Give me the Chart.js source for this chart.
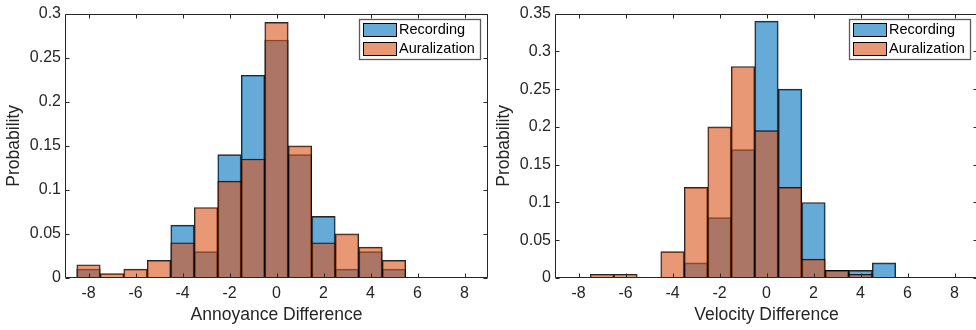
<!DOCTYPE html>
<html><head><meta charset="utf-8">
<script src="https://cdn.jsdelivr.net/npm/chart.js@4.4.0/dist/chart.umd.min.js"></script>
<style>
html,body{margin:0;padding:0;background:#fff;overflow:hidden;width:976px;height:330px;}
.p{position:absolute;top:0;width:490px;height:330px;}
canvas{display:block;}
</style></head><body>
<div class="p" style="left:0"><canvas id="c1" width="490" height="330"></canvas></div>
<div class="p" style="left:490px"><canvas id="c2" width="490" height="330"></canvas></div>
<script>
// ---- data ----
const annoyBins = [-8,-7,-6,-5,-4,-3,-2,-1,0,1,2,3,4,5];
const annoyRecording = [0.01,0,0,0,0.06,0.03,0.14,0.23,0.27,0.14,0.07,0.01,0.03,0.01];
const annoyAuralization = [0.015,0.005,0.01,0.02,0.04,0.08,0.11,0.135,0.29,0.15,0.04,0.05,0.035,0.02];
const velBins = [-7,-6,-5,-4,-3,-2,-1,0,1,2,3,4,5];
const velRecording = [0,0,0,0,0.02,0.08,0.17,0.34,0.25,0.10,0.01,0.01,0.02];
const velAuralization = [0.005,0.005,0,0.035,0.12,0.20,0.28,0.195,0.12,0.025,0.01,0.005,0];
const xTicks = [-8,-6,-4,-2,0,2,4,6,8];
const yTicksAnnoy = [0,0.05,0.1,0.15,0.2,0.25,0.3];
const yTicksVel = [0,0.05,0.1,0.15,0.2,0.25,0.3,0.35];
const seriesNames = ['Recording','Auralization'];
const xTitles = ['Annoyance Difference','Velocity Difference'];
const yTitle = 'Probability';

const FILL = ['rgba(0,114,189,0.6)','rgba(217,83,25,0.6)'];
const AX = 'rgb(38,38,38)';
const FONT = "'Liberation Sans', Arial, sans-serif";

const boxPlugin = {
  id: 'boxPlugin',
  afterDraw(chart) {
    const ctx = chart.ctx, a = chart.chartArea;
    const xs = chart.scales.x, ys = chart.scales.y;
    const L = Math.round(a.left)+0.5, R = Math.round(a.right)-0.5, T = Math.round(a.top)+0.5, B = Math.round(a.bottom)-0.5;
    ctx.save();
    ctx.strokeStyle = AX; ctx.lineWidth = 1;
    ctx.beginPath();
    ctx.moveTo(L,T); ctx.lineTo(R,T); ctx.lineTo(R,B); ctx.lineTo(L,B); ctx.closePath();
    const tl = 4;
    xs.ticks.forEach(t => {
      const px = Math.round(xs.getPixelForValue(t.value))+0.5;
      ctx.moveTo(px,B); ctx.lineTo(px,B-tl);
      ctx.moveTo(px,T); ctx.lineTo(px,T+tl);
    });
    ys.ticks.forEach(t => {
      const py = Math.round(ys.getPixelForValue(t.value))+0.5;
      ctx.moveTo(L,py); ctx.lineTo(L+tl,py);
      ctx.moveTo(R,py); ctx.lineTo(R-tl,py);
    });
    ctx.stroke();
    // legend
    const lx = a.left + 294, ly = 19, lw = 121, lh = 40;
    ctx.fillStyle = '#fff';
    ctx.fillRect(lx, ly, lw, lh);
    ctx.strokeStyle = 'rgb(90,90,90)';
    ctx.lineWidth = 1.3;
    ctx.strokeRect(lx+0.5, ly+0.5, lw, lh);
    ctx.font = "14.5px " + FONT;
    ctx.textBaseline = 'middle';
    seriesNames.forEach((n,i) => {
      const sy = ly + 4 + i*19;
      ctx.fillStyle = FILL[i];
      ctx.fillRect(lx+4, sy, 33, 13);
      ctx.strokeStyle = '#000'; ctx.lineWidth = 1;
      ctx.strokeRect(lx+4.5, sy+0.5, 33, 13);
      ctx.fillStyle = '#000';
      ctx.fillText(n, lx+40, sy+7);
    });
    ctx.restore();
  }
};

function makeChart(id, bins, rec, aur, yTicks, ymax, xTitle) {
  const recData = bins.map((b,i) => ({x:b, y:rec[i]}));
  const aurData = bins.map((b,i) => ({x:b, y:aur[i]}));
  new Chart(document.getElementById(id), {
    type: 'bar',
    data: { datasets: [
      {label: seriesNames[0], data: recData, backgroundColor: FILL[0], borderColor: 'rgba(0,0,0,0.85)', borderWidth: 1, borderSkipped: 'start', order: 1, grouped: false, barPercentage: 1, categoryPercentage: 1},
      {label: seriesNames[1], data: aurData, backgroundColor: FILL[1], borderColor: 'rgba(0,0,0,0.85)', borderWidth: 1, borderSkipped: 'start', order: 0, grouped: false, barPercentage: 1, categoryPercentage: 1}
    ]},
    options: {
      responsive: false, animation: false,
      layout: { padding: { left: 0, right: 2, top: 11, bottom: 0 } },
      plugins: { legend: { display: false }, tooltip: { enabled: false } },
      scales: {
        x: {
          type: 'linear', min: -9, max: 9, offset: false,
          afterBuildTicks: s => { s.ticks = xTicks.map(v => ({value: v})); },
          afterFit: s => { s.height = 52; },
          grid: { display: false, drawTicks: false }, border: { display: false },
          ticks: { color: AX, font: { family: FONT, size: 16 }, padding: 6, maxRotation: 0, autoSkip: false, callback: v => String(v) },
          title: { display: true, text: xTitle, color: AX, font: { family: FONT, size: 17.5 }, padding: { top: 0, bottom: 4 } }
        },
        y: {
          min: 0, max: ymax,
          afterBuildTicks: s => { s.ticks = yTicks.map(v => ({value: v})); },
          afterFit: s => { s.width = 65; },
          grid: { display: false, drawTicks: false }, border: { display: false },
          ticks: { color: AX, font: { family: FONT, size: 16 }, padding: 4, autoSkip: false, callback: v => String(+v.toFixed(2)) },
          title: { display: true, text: yTitle, color: AX, font: { family: FONT, size: 17.5 }, padding: { top: 4, bottom: 0 } }
        }
      }
    },
    plugins: [boxPlugin]
  });
}
makeChart('c1', annoyBins, annoyRecording, annoyAuralization, yTicksAnnoy, 0.3, xTitles[0]);
makeChart('c2', velBins, velRecording, velAuralization, yTicksVel, 0.35, xTitles[1]);
</script>
</body></html>
